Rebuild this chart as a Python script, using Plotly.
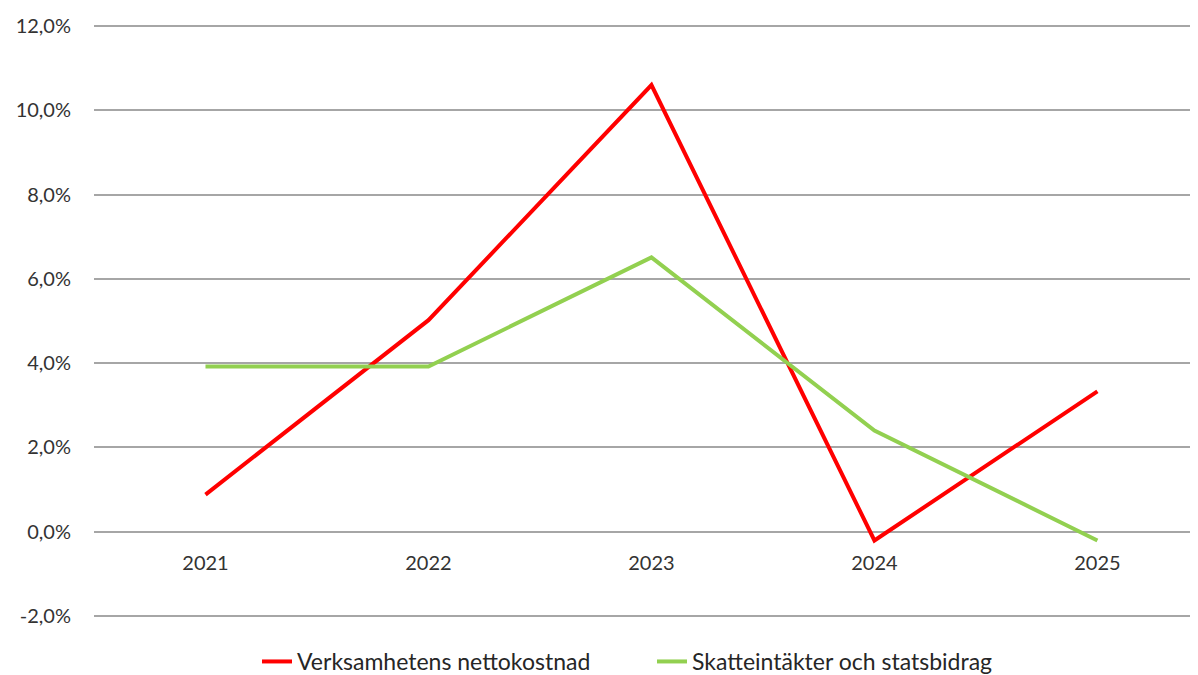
import plotly.graph_objects as go

years = ["2021", "2022", "2023", "2024", "2025"]
netto = [0.0088, 0.0502, 0.1060, -0.0021, 0.0333]
skatt = [0.0392, 0.0392, 0.0651, 0.0240, -0.0021]
names = ["Verksamhetens nettokostnad", "Skatteintäkter och statsbidrag"]
ytick_vals = [-0.02, 0.0, 0.02, 0.04, 0.06, 0.08, 0.10, 0.12]
ytick_text = ["-2,0%", "0,0%", "2,0%", "4,0%", "6,0%", "8,0%", "10,0%", "12,0%"]

font = "Lato"
txt = "#333333"
grid = "#a6a6a6"

fig = go.Figure()
fig.add_trace(go.Scatter(x=years, y=netto, mode="lines", name=names[0],
                         line=dict(color="#ff0000", width=4)))
fig.add_trace(go.Scatter(x=years, y=skatt, mode="lines", name=names[1],
                         line=dict(color="#92d050", width=4)))

fig.update_layout(
    width=1198, height=675,
    margin=dict(l=86, r=0, t=16, b=64),
    paper_bgcolor="white", plot_bgcolor="white",
    font=dict(family=font, size=20, color=txt),
    showlegend=True,
    legend=dict(orientation="h", x=0.1466, xanchor="left", y=-0.073, yanchor="middle",
                font=dict(size=23, color="#262626"), entrywidth=350,
                traceorder="normal"),
    xaxis=dict(type="category", range=[-0.5, 4.487], showgrid=False, zeroline=False,
               showline=False, anchor="free", position=0.0205/0.141, automargin=False,
               ticks="", ticklabelstandoff=17, tickfont=dict(size=20, color=txt)),
    yaxis=dict(range=[-0.0205, 0.1205], tickvals=ytick_vals, ticktext=ytick_text,
               showgrid=True, automargin=False,
               gridcolor=grid, gridwidth=1.5, zeroline=True, zerolinecolor=grid,
               zerolinewidth=1.5, showline=False, ticks="", ticklabelstandoff=22,
               tickfont=dict(size=20, color=txt)),
)

fig.write_html("out.html")
